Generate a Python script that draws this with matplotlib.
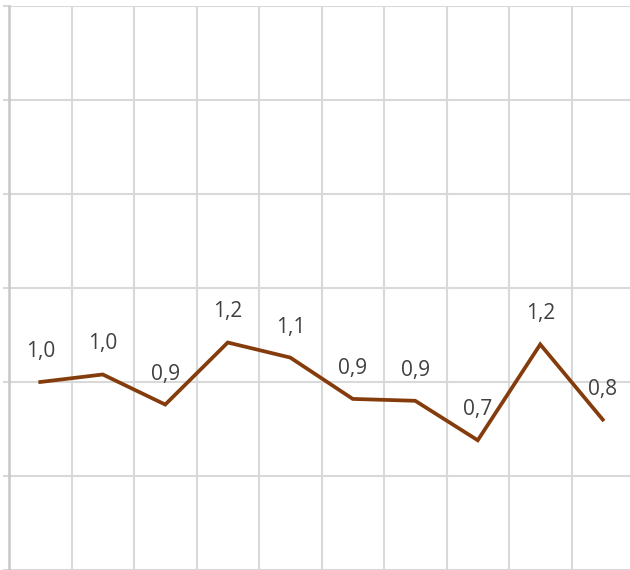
import matplotlib.pyplot as plt
import numpy as np

# values
categories = list(range(1, 11))
values = [1.00, 1.04, 0.88, 1.21, 1.13, 0.91, 0.90, 0.69, 1.20, 0.80]
y_ticks = [0, 0.5, 1.0, 1.5, 2.0, 2.5, 3.0]

line_color = '#843C0C'
grid_color = '#D9D9D9'

fig = plt.figure(figsize=(6.3, 5.7), dpi=100)
# plot area runs a little past the right edge of the image, as in the reference
ax = fig.add_axes([9 / 630, 0, 625 / 630, 564 / 570])

x = np.arange(len(categories))
ax.plot(x, values, color=line_color, linewidth=2.7, solid_joinstyle='miter')

for xi, v in zip(x, values):
    ax.annotate(f'{v:.1f}'.replace('.', ','), (xi, v), xytext=(0, 22),
                textcoords='offset points', ha='center', va='center',
                fontsize=15, color='#404040', family='Open Sans')

ax.set_xlim(-0.5, len(categories) - 0.5)
ax.set_ylim(0, 3.0)
ax.set_yticks(y_ticks)
ax.set_yticklabels([])
ax.set_xticks(np.arange(-0.5, len(categories), 1.0))
ax.set_xticklabels([])

ax.grid(True, color=grid_color, linewidth=1.5)
ax.set_axisbelow(True)
ax.tick_params(axis='y', length=4.5, width=1.5, color=grid_color, direction='out')
ax.tick_params(axis='x', length=0)

for side in ['top', 'right', 'bottom']:
    ax.spines[side].set_visible(False)
ax.spines['left'].set_color('#C8C8C8')
ax.spines['left'].set_linewidth(1.8)

plt.savefig('out.png', dpi=100)
